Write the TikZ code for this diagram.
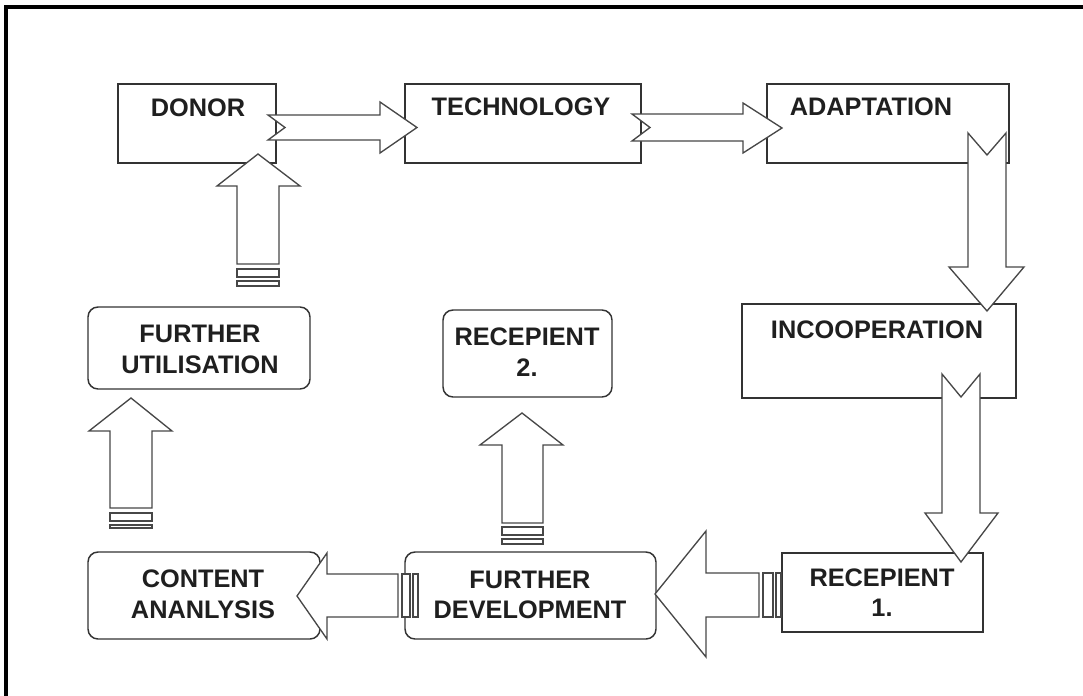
\documentclass[tikz,border=0pt]{standalone}
\usepackage{fontspec}
\setmainfont{Liberation Sans}
\begin{document}
\begin{tikzpicture}[x=0.75pt,y=-0.75pt]
\tikzset{
  box/.style={draw=black!80, line width=1.1pt, fill=white, inner sep=0pt},
  rbox/.style={box, rounded corners=7.5pt},
  lbl/.style={font=\fontsize{19}{23}\selectfont\bfseries, text=black!88, align=center, inner sep=0pt},
  barrow/.style={draw=black!72, line width=1pt, fill=white, line join=miter},
  frame/.style={line width=2.3pt, draw=black},
}
\useasboundingbox (0,0) rectangle (1083,696);
\fill[white] (0,0) rectangle (1083,696);
% page frame (left and top edges)
\draw[frame] (6,696) -- (6,7) -- (1083,7);

% ---- boxes ----
\node[box, minimum width=118.5pt, minimum height=59.25pt] (donor) at (197,123.5) {};
\node[box, minimum width=177pt,   minimum height=59.25pt] (tech)  at (523,123.5) {};
\node[box, minimum width=181.5pt, minimum height=59.25pt] (adapt) at (888,123.5) {};
\node[box, minimum width=205.5pt, minimum height=70.5pt]  (incoop) at (879,351) {};
\node[box, minimum width=150.75pt,minimum height=59.25pt] (rec1) at (882.5,592.5) {};
\node[rbox, minimum width=188.25pt,minimum height=65.25pt] (fdev) at (530.5,595.5) {};
\node[rbox, minimum width=174pt,  minimum height=65.25pt] (canal) at (204,595.5) {};
\node[rbox, minimum width=166.5pt,minimum height=61.5pt]  (futil) at (199,348) {};
\node[rbox, minimum width=126.75pt,minimum height=65.25pt] (rec2) at (527.5,353.5) {};

% ---- labels ----
\node[lbl] (donor-t)  at (198,108) {DONOR};
\node[lbl] (tech-t)   at (521,107) {TECHNOLOGY};
\node[lbl] (adapt-t)  at (871,107) {ADAPTATION};
\node[lbl] (incoop-t) at (877,330) {INCOOPERATION};
\node[lbl] (futil-t)  at (200,349.5) {FURTHER\\UTILISATION};
\node[lbl] (rec2-t)   at (527,352) {RECEPIENT\\2.};
\node[lbl] (canal-t)  at (203,594.5) {CONTENT\\ANANLYSIS};
\node[lbl] (fdev-t)   at (530,595) {FURTHER\\DEVELOPMENT};
\node[lbl] (rec1-t)   at (882,592.5) {RECEPIENT\\1.};

% ---- notched block arrows ----
% donor -> technology
\draw[barrow] (268,115) -- (380,115) -- (380,102) -- (417,127.5) -- (380,153)
  -- (380,140) -- (268,140) -- (285,127.5) -- cycle;
% technology -> adaptation
\draw[barrow] (632,114) -- (743,114) -- (743,103) -- (782,128) -- (743,153)
  -- (743,141) -- (632,141) -- (650,127.5) -- cycle;
% adaptation -> incooperation
\draw[barrow] (968,133) -- (987,155) -- (1006,133) -- (1006,267) -- (1024,267)
  -- (987,311) -- (949,267) -- (968,267) -- cycle;
% incooperation -> recepient 1
\draw[barrow] (942,374) -- (961,397) -- (980,374) -- (980,513) -- (998,513)
  -- (961,562) -- (925,513) -- (942,513) -- cycle;

% ---- striped block arrows ----
% recepient 1 -> further development
\draw[barrow] (759,573) -- (706,573) -- (706,531) -- (655,594) -- (706,657)
  -- (706,617) -- (759,617) -- cycle;
\draw[barrow] (763,573) rectangle (773,617);
\draw[barrow] (776,573) rectangle (781,617);
% further development -> content analysis
\draw[barrow] (398,574) -- (327,574) -- (327,553) -- (297,596) -- (327,639)
  -- (327,617) -- (398,617) -- cycle;
\draw[barrow] (402,574) rectangle (410,617);
\draw[barrow] (413,574) rectangle (418,617);
% content analysis -> further utilisation
\draw[barrow] (110,508) -- (110,431) -- (89,431) -- (131,398) -- (172,431)
  -- (152,431) -- (152,508) -- cycle;
\draw[barrow] (110,513) rectangle (152,521);
\draw[barrow] (110,525) rectangle (152,528);
% further development -> recepient 2
\draw[barrow] (502,523) -- (502,445) -- (480,445) -- (522,413) -- (563,445)
  -- (543,445) -- (543,523) -- cycle;
\draw[barrow] (502,527) rectangle (543,535);
\draw[barrow] (502,539) rectangle (543,544);
% further utilisation -> donor
\draw[barrow] (237,264) -- (237,186) -- (217,186) -- (258,154) -- (300,186)
  -- (279,186) -- (279,264) -- cycle;
\draw[barrow] (237,269) rectangle (279,277);
\draw[barrow] (237,281) rectangle (279,286);
\end{tikzpicture}
\end{document}
